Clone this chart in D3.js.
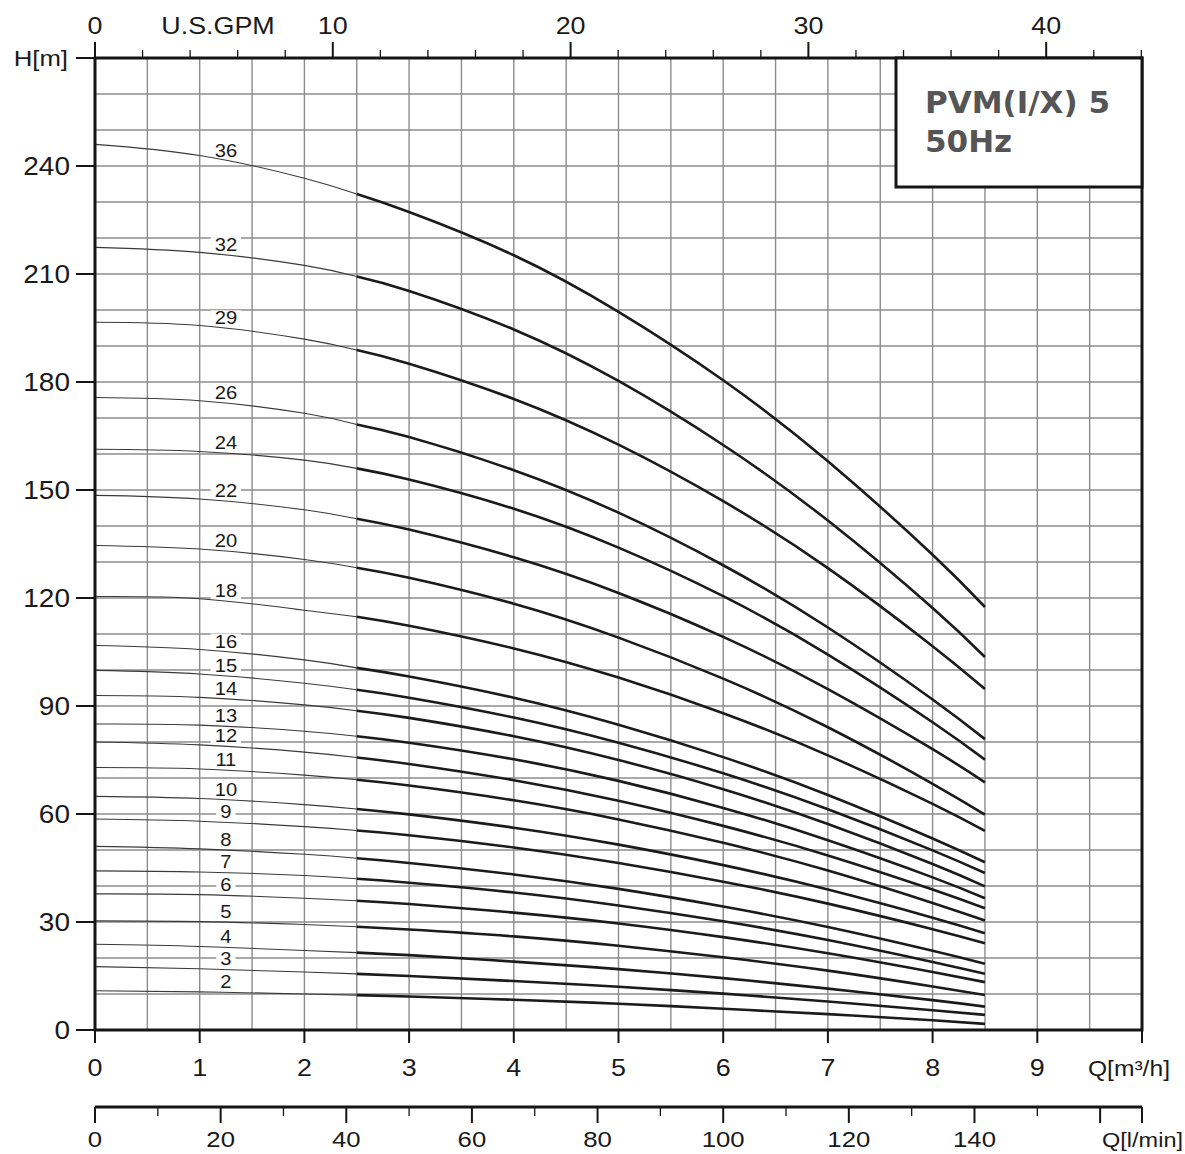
<!DOCTYPE html>
<html>
<head>
<meta charset="utf-8">
<script src="https://cdn.jsdelivr.net/npm/d3@7"></script>
<style>
  body { margin: 0; background: #fff; }
  text { font-family: "Liberation Sans", Arial, sans-serif; fill: #1a1a1a; }
</style>
</head>
<body>
<div id="chart"></div>
<script>
  // flow points (m3/h) where the curves were read
  var flowQ = [0, 1, 2, 2.5, 3, 4, 5, 6, 7, 8, 8.5];
  var stages = [36, 32, 29, 26, 24, 22, 20, 18, 16, 15, 14, 13, 12, 11, 10, 9, 8, 7, 6, 5, 4, 3, 2];

  // head H[m] for each stage count, at flowQ
  var head36 = [246.0, 242.9, 236.6, 232.2, 227.2, 215.2, 199.5, 180.5, 158.0, 132.0, 117.5];
  var head32 = [217.4, 216.0, 212.4, 209.3, 205.3, 194.6, 180.3, 162.5, 141.5, 117.2, 103.6];
  var head29 = [196.6, 195.7, 191.9, 188.9, 185.1, 175.3, 162.6, 146.9, 128.3, 106.6, 94.7];
  var head26 = [175.7, 174.8, 171.3, 168.2, 164.7, 155.5, 143.7, 129.1, 111.8, 91.8, 80.8];
  var head24 = [161.3, 160.7, 158.3, 156.0, 152.9, 144.8, 134.0, 120.5, 104.3, 85.5, 75.1];
  var head22 = [148.5, 147.5, 144.5, 142.0, 139.0, 131.3, 121.4, 109.2, 94.7, 78.0, 68.8];
  var head20 = [134.6, 133.6, 130.7, 128.4, 125.6, 118.4, 109.0, 97.6, 84.1, 68.4, 59.8];
  var head18 = [120.4, 119.8, 116.6, 114.8, 112.3, 106.0, 97.9, 88.0, 76.3, 62.8, 55.3];
  var head16 = [106.8, 105.7, 102.8, 100.6, 98.2, 92.3, 84.8, 75.8, 65.3, 53.2, 46.6];
  var head15 = [99.9, 98.9, 96.3, 94.5, 92.3, 86.8, 79.8, 71.3, 61.3, 49.9, 43.6];
  var head14 = [92.9, 92.4, 90.3, 88.7, 86.7, 81.6, 75.0, 66.9, 57.2, 46.1, 39.9];
  var head13 = [85.0, 84.7, 83.0, 81.6, 79.8, 75.2, 69.2, 61.7, 52.7, 42.4, 36.6];
  var head12 = [80.0, 79.2, 77.2, 75.7, 73.9, 69.4, 63.7, 56.7, 48.5, 39.0, 33.8];
  var head11 = [72.9, 72.5, 70.8, 69.5, 67.9, 63.8, 58.5, 52.0, 44.3, 35.3, 30.4];
  var head10 = [64.9, 64.3, 62.6, 61.4, 59.9, 56.2, 51.5, 45.8, 39.0, 31.2, 26.9];
  var head9 = [58.6, 58.0, 56.5, 55.4, 54.1, 50.7, 46.4, 41.2, 35.1, 28.0, 24.1];
  var head8 = [51.0, 50.3, 48.8, 47.7, 46.4, 43.2, 39.2, 34.3, 28.6, 22.0, 18.4];
  var head7 = [44.2, 43.9, 42.9, 42.0, 40.9, 38.2, 34.6, 30.2, 25.0, 18.9, 15.6];
  var head6 = [37.8, 37.6, 36.6, 35.9, 35.0, 32.6, 29.6, 25.8, 21.3, 16.1, 13.3];
  var head5 = [30.3, 30.1, 29.3, 28.7, 27.9, 26.0, 23.4, 20.2, 16.5, 12.1, 9.7];
  var head4 = [23.8, 23.2, 22.1, 21.5, 20.8, 19.0, 16.9, 14.4, 11.5, 8.3, 6.5];
  var head3 = [17.6, 17.0, 16.1, 15.6, 15.0, 13.6, 12.0, 10.1, 7.9, 5.5, 4.2];
  var head2 = [10.9, 10.6, 10.0, 9.7, 9.3, 8.4, 7.3, 5.9, 4.4, 2.7, 1.7];

  var heads = [head36, head32, head29, head26, head24, head22, head20, head18, head16, head15, head14,
               head13, head12, head11, head10, head9, head8, head7, head6, head5, head4, head3, head2];

  // tick labels
  var hTicks = [0, 30, 60, 90, 120, 150, 180, 210, 240];
  var qTicks = [0, 1, 2, 3, 4, 5, 6, 7, 8, 9];
  var gpmTicks = [0, 10, 20, 30, 40];
  var lminTicks = [0, 20, 40, 60, 80, 100, 120, 140];

  var GPM_PER_M3H = 4.40287, LMIN_PER_M3H = 1000 / 60;
  var thickFrom = 2.5;   // thin line below this flow
  var stretch = 1.12;    // the scanned text is a bit wide

  var svg = d3.select("#chart")
      .append("svg")
      .attr("width", 1185)
      .attr("height", 1154);

  var x = d3.scaleLinear().domain([0, 10]).range([95, 1142]);
  var y = d3.scaleLinear().domain([0, 270]).range([1030, 58]);
  var xGpm = d3.scaleLinear().domain([0, 10 * GPM_PER_M3H]).range([95, 1142]);
  var xLmin = d3.scaleLinear().domain([0, 10 * LMIN_PER_M3H]).range([95, 1142]);

  function label(g, px, py, str, size, anchor) {
      return g.append("text")
          .attr("transform", "translate(" + px + "," + py + ") scale(" + stretch + ",1)")
          .attr("text-anchor", anchor || "middle")
          .style("font-size", size + "px")
          .text(str);
  }

  // grid
  var grid = svg.append("g").attr("stroke", "#8c8c8c").attr("stroke-width", 1.4);
  d3.range(0.5, 10, 0.5).forEach(function (q) {
      grid.append("line").attr("x1", x(q)).attr("x2", x(q)).attr("y1", y(0)).attr("y2", y(270));
  });
  d3.range(10, 270, 10).forEach(function (h) {
      grid.append("line").attr("x1", x(0)).attr("x2", x(10)).attr("y1", y(h)).attr("y2", y(h));
  });

  // stage labels sit just above their curve, white behind so the grid breaks
  var labels = svg.append("g");
  stages.forEach(function (s, i) {
      var h = heads[i][1] + 0.25 * (heads[i][2] - heads[i][1]);
      var t = label(labels, x(1.25), y(h) - 4.5, s, 18);
      var b = t.node().getBBox();
      labels.insert("rect", "text")
          .attr("x", x(1.25) - b.width * stretch / 2 - 4)
          .attr("y", y(h) - 4.5 + b.y + 2)
          .attr("width", b.width * stretch + 8)
          .attr("height", b.height - 4)
          .attr("fill", "#fff");
  });

  // curves
  var line = d3.line()
      .x(function (d) { return x(d[0]); })
      .y(function (d) { return y(d[1]); })
      .curve(d3.curveNatural);

  heads.forEach(function (hs) {
      var pts = flowQ.map(function (q, j) { return [q, hs[j]]; });
      svg.append("path")
          .attr("d", line(pts.filter(function (p) { return p[0] <= thickFrom; })))
          .attr("fill", "none").attr("stroke", "#3a3a3a").attr("stroke-width", 1.1);
      svg.append("path")
          .attr("d", line(pts.filter(function (p) { return p[0] >= thickFrom; })))
          .attr("fill", "none").attr("stroke", "#1b1b1b").attr("stroke-width", 2.6);
  });

  // frame
  svg.append("rect")
      .attr("x", x(0)).attr("y", y(270))
      .attr("width", x(10) - x(0)).attr("height", y(0) - y(270))
      .attr("fill", "none").attr("stroke", "#151515").attr("stroke-width", 3);

  // title box
  svg.append("rect")
      .attr("x", 896).attr("y", y(270))
      .attr("width", x(10) - 896).attr("height", 129)
      .attr("fill", "#fff").attr("stroke", "#151515").attr("stroke-width", 3);
  svg.append("text").attr("x", 925).attr("y", 113)
      .style("font-family", "'DejaVu Sans', sans-serif").style("font-weight", "bold")
      .style("font-size", "31px").style("fill", "#555").text("PVM(I/X) 5");
  svg.append("text").attr("x", 925).attr("y", 152)
      .style("font-family", "'DejaVu Sans', sans-serif").style("font-weight", "bold")
      .style("font-size", "31px").style("fill", "#555").text("50Hz");

  var tickStroke = "#151515";

  // left axis H[m]
  var yAxis = svg.append("g");
  hTicks.concat([270]).forEach(function (h) {
      yAxis.append("line").attr("x1", 76).attr("x2", 95).attr("y1", y(h)).attr("y2", y(h))
          .attr("stroke", tickStroke).attr("stroke-width", 2);
  });
  hTicks.forEach(function (h) {
      label(yAxis, 70, y(h) + 9, h, 25, "end");
  });
  label(yAxis, 68, y(270) + 8, "H[m]", 23, "end");

  // bottom axis Q[m3/h]
  var qAxis = svg.append("g");
  qTicks.concat([10]).forEach(function (q) {
      qAxis.append("line").attr("x1", x(q)).attr("x2", x(q)).attr("y1", 1030).attr("y2", 1043)
          .attr("stroke", tickStroke).attr("stroke-width", 2);
  });
  qTicks.forEach(function (q) {
      label(qAxis, x(q), 1076, q, 24);
  });
  label(qAxis, 1170, 1076, "Q[m\u00b3/h]", 22, "end");

  // top axis U.S.GPM
  var gAxis = svg.append("g");
  d3.range(0, 10 * GPM_PER_M3H, 2).forEach(function (g) {
      var major = g % 10 === 0;
      gAxis.append("line").attr("x1", xGpm(g)).attr("x2", xGpm(g))
          .attr("y1", 58).attr("y2", major ? 42 : 50)
          .attr("stroke", tickStroke).attr("stroke-width", major ? 2 : 1.3);
  });
  gpmTicks.forEach(function (g) {
      label(gAxis, xGpm(g), 34, g, 24);
  });
  label(gAxis, 218, 34, "U.S.GPM", 24);

  // lower axis Q[l/min]
  var lAxis = svg.append("g");
  lAxis.append("line").attr("x1", x(0)).attr("x2", x(10)).attr("y1", 1107).attr("y2", 1107)
      .attr("stroke", tickStroke).attr("stroke-width", 3);
  d3.range(0, 10 * LMIN_PER_M3H, 10).concat([10 * LMIN_PER_M3H]).forEach(function (l, i, arr) {
      var major = l % 20 === 0 || i === arr.length - 1;
      lAxis.append("line").attr("x1", xLmin(l)).attr("x2", xLmin(l))
          .attr("y1", 1107).attr("y2", major ? 1123 : 1116)
          .attr("stroke", tickStroke).attr("stroke-width", major ? 2 : 1.3);
  });
  lminTicks.forEach(function (l) {
      label(lAxis, xLmin(l), 1147, l, 23);
  });
  label(lAxis, 1183, 1147, "Q[l/min]", 21, "end");
</script>
</body>
</html>
